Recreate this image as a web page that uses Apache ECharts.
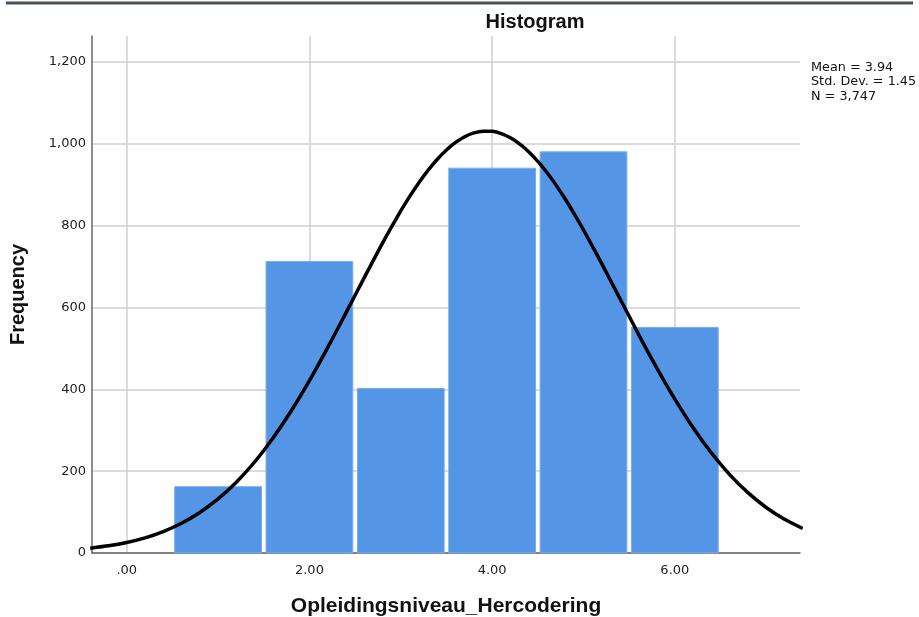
<!DOCTYPE html>
<html>
<head>
<meta charset="utf-8">
<script src="https://cdn.jsdelivr.net/npm/echarts@6/dist/echarts.min.js"></script>
<style>
html,body{margin:0;padding:0;background:#fff;}
#chart{width:919px;height:617px;}
</style>
</head>
<body>
<div id="chart"></div>
<script>
// Histogram bins
var binCenters = [1, 2, 3, 4, 5, 6];
var binCounts = [162, 712, 402, 940, 980, 551];

// Normal curve
var curveX = [-0.4, -0.2, 0, 0.2, 0.4, 0.6, 0.8, 1.0, 1.2, 1.4, 1.6, 1.8, 2.0, 2.2, 2.4, 2.6, 2.8, 3.0, 3.1, 3.2, 3.3, 3.4, 3.5, 3.6, 3.7, 3.8, 3.9, 4.0, 4.1, 4.2, 4.3, 4.4, 4.5, 4.6, 4.7, 4.8, 4.9, 5.0, 5.2, 5.4, 5.6, 5.8, 6.0, 6.2, 6.4, 6.6, 6.8, 7.0, 7.2, 7.4];
var curveY = [11.7, 17.5, 25.7, 37.0, 52.4, 72.6, 98.9, 132.0, 172.9, 222.3, 280.4, 347.0, 421.2, 501.8, 586.6, 672.7, 756.9, 835.6, 871.7, 905.1, 935.3, 962.0, 984.6, 1003.0, 1017.0, 1026.2, 1030.6, 1030.1, 1024.7, 1014.6, 999.7, 980.4, 956.9, 929.5, 898.7, 864.7, 828.0, 789.3, 706.8, 621.1, 535.4, 452.8, 375.8, 306.0, 244.5, 191.6, 147.4, 111.2, 82.3, 59.8];

// Tick labels
var xTickValues = [0, 2, 4, 6];
var xTickLabels = ['.00', '2.00', '4.00', '6.00'];
var yTickValues = [0, 200, 400, 600, 800, 1000, 1200];
var yTickLabels = ['0', '200', '400', '600', '800', '1,000', '1,200'];

var statLines = ['Mean = 3.94', 'Std. Dev. = 1.45', 'N = 3,747'];

var chart = echarts.init(document.getElementById('chart'));

var barData = binCenters.map(function (c, i) { return [c, binCounts[i]]; });
var lineData = curveX.map(function (x, i) { return [x, curveY[i]]; });

chart.setOption({
  animation: false,
  backgroundColor: '#ffffff',
  title: {
    text: 'Histogram',
    left: 530,
    top: 7,
    textAlign: 'center',
    textStyle: { fontFamily: 'Liberation Sans', fontWeight: 'bold', fontSize: 20, color: '#111' }
  },
  grid: { left: 92, right: 119, top: 36, bottom: 64, containLabel: false, outerBoundsMode: 'none' },
  xAxis: {
    type: 'value',
    min: -0.38,
    max: 7.37,
    name: 'Opleidingsniveau_Hercodering',
    nameLocation: 'middle',
    nameGap: 43,
    nameTextStyle: { fontFamily: 'Liberation Sans', fontWeight: 'bold', fontSize: 21, color: '#111' },
    axisLine: { show: true, onZero: false, lineStyle: { color: '#666', width: 1.5 } },
    axisTick: { show: false, customValues: xTickValues },
    axisLabel: {
      customValues: xTickValues,
      margin: 11,
      fontFamily: 'DejaVu Sans', fontSize: 13, color: '#222',
      formatter: function (v) { var i = xTickValues.indexOf(v); return i >= 0 ? xTickLabels[i] : ''; }
    },
    splitLine: { show: true, lineStyle: { color: '#cfcfcf', width: 1.5 } }
  },
  yAxis: {
    type: 'value',
    min: 0,
    max: 1263,
    name: 'Frequency',
    nameLocation: 'middle',
    nameGap: 64,
    nameTextStyle: { fontFamily: 'Liberation Sans', fontWeight: 'bold', fontSize: 20, color: '#111' },
    axisLine: { show: true, onZero: false, lineStyle: { color: '#666', width: 1.5 } },
    axisTick: { show: false, customValues: yTickValues },
    axisLabel: {
      customValues: yTickValues,
      margin: 6,
      fontFamily: 'DejaVu Sans', fontSize: 13, color: '#222',
      formatter: function (v) { var i = yTickValues.indexOf(v); return i >= 0 ? yTickLabels[i] : ''; }
    },
    splitLine: { show: true, lineStyle: { color: '#cfcfcf', width: 1.5 } }
  },
  series: [
    {
      type: 'custom',
      z: 2,
      data: barData,
      encode: { x: 0, y: 1 },
      renderItem: function (params, api) {
        var x = api.value(0), v = api.value(1);
        var p0 = api.coord([x - 0.5, v]);
        var p1 = api.coord([x + 0.5, 0]);
        return {
          type: 'rect',
          shape: { x: p0[0] + 2.3, y: p0[1], width: p1[0] - p0[0] - 4.6, height: p1[1] - p0[1] },
          style: { fill: '#5495E5', stroke: '#78acec', lineWidth: 1 }
        };
      }
    },
    {
      type: 'line',
      z: 5,
      data: lineData,
      smooth: 0.2,
      symbol: 'none',
      clip: true,
      lineStyle: { color: '#000', width: 3.5, join: 'round' }
    }
  ],
  graphic: [
    {
      type: 'line',
      shape: { x1: 6, y1: 3, x2: 913, y2: 3 },
      style: { stroke: '#45525c', lineWidth: 3 }
    },
    {
      type: 'text',
      left: 811,
      top: 60,
      style: {
        text: statLines.join('\n'),
        font: '12.8px "DejaVu Sans"',
        lineHeight: 14.5,
        fill: '#111'
      }
    }
  ]
});
</script>
</body>
</html>
